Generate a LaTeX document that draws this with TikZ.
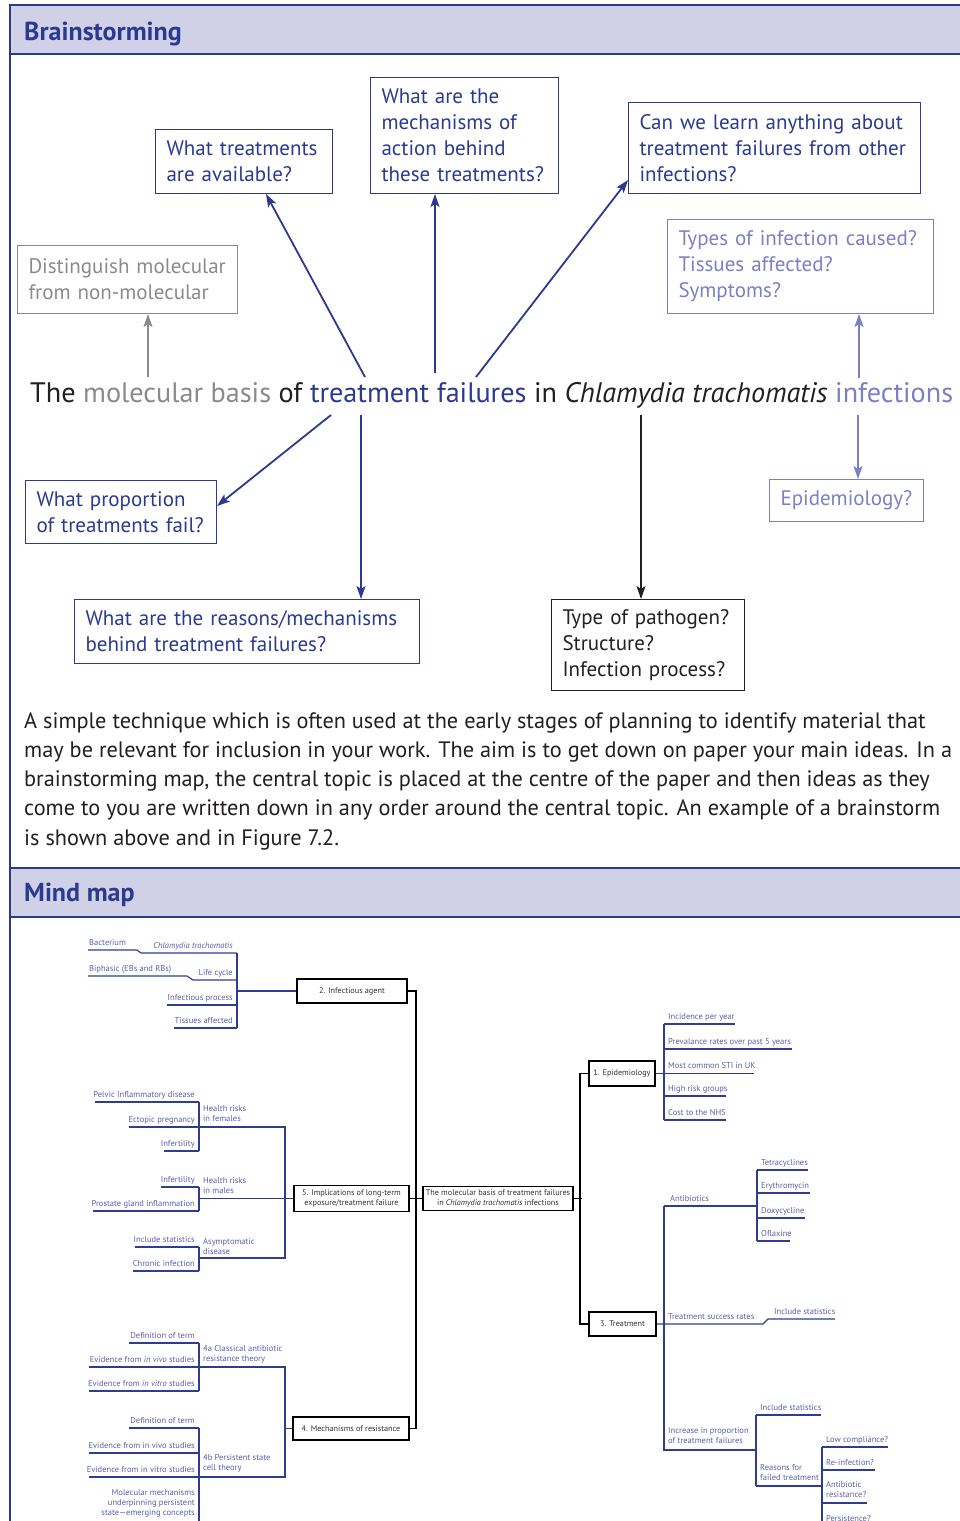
\documentclass[tikz,border=0pt]{standalone}
\usepackage{fontspec}
\setmainfont{PT Sans}
\usetikzlibrary{arrows.meta}

\definecolor{navy}{HTML}{2B3990}
\definecolor{lilac}{HTML}{7B7FC3}
\definecolor{greytxt}{HTML}{8A8A8A}
\definecolor{inkblack}{HTML}{231F20}
\definecolor{bandfill}{HTML}{D0D1E6}
\definecolor{mapblue}{HTML}{5560AA}
\definecolor{mapline}{HTML}{2E3C94}
\definecolor{boxtxt}{HTML}{333333}

\tikzset{
  band/.style={fill=bandfill, draw=navy, line width=1.2pt},
  bandtitle/.style={anchor=base west, inner sep=0pt, text=navy, font=\fontsize{26}{30}\selectfont\bfseries},
  qbox/.style={draw, line width=1pt, align=left, anchor=north west, inner xsep=11pt,
    font=\fontsize{21}{26}\selectfont},
  qarrow/.style={-{Stealth[length=13pt,width=9pt,inset=3pt]}, line width=1.8pt},
  mbox/.style={draw=black, line width=1.8pt, fill=white, text=boxtxt, align=center,
    inner sep=2pt, font=\fontsize{8.2}{9.8}\selectfont},
  mlink/.style={draw=black, line width=1.8pt},
  mline/.style={draw=mapline, line width=1.2pt},
  rtxt/.style={anchor=base west, text=mapblue, inner sep=0pt, font=\fontsize{8.5}{10}\selectfont},
  ltxt/.style={rtxt, anchor=base east},
  ntxt/.style={rtxt, anchor=north west, align=left},
}

\begin{document}
\begin{tikzpicture}[x=1pt, y=-1pt]
\path[use as bounding box] (0,0) rectangle (960,1521);

% section bands and frame
\path[band] (10,5) rectangle (964,54);
\node[bandtitle] (brain) at (24,40) {Brainstorming};
\path[band] (10,868) rectangle (964,917);
\node[bandtitle] (mind) at (24,901) {Mind map};
\draw[navy, line width=1.2pt] (10,54) -- (10,868) (10,917) -- (10,1525);

% brainstorm
\node[qbox, navy, text width=155pt, minimum height=64pt] (avail) at (155,129) {What treatments\\are available?};
\node[qbox, navy, text width=166pt, minimum height=116pt] (mech) at (370,77) {What are the\\mechanisms of\\action behind\\these treatments?};
\node[qbox, navy, text width=270pt, minimum height=91pt] (learn) at (628,102) {Can we learn anything about\\treatment failures from other\\infections?};
\node[qbox, lilac, text width=244pt, minimum height=94pt] (types) at (667,219) {Types of infection caused?\\Tissues affected?\\Symptoms?};
\node[qbox, greytxt, text width=198pt, minimum height=68pt] (dist) at (17,245) {Distinguish molecular\\from non-molecular};
\node[qbox, navy, text width=169pt, minimum height=63pt] (prop) at (25,480) {What proportion\\of treatments fail?};
\node[qbox, navy, text width=323pt, minimum height=64pt] (reasons) at (74,599) {What are the reasons/mechanisms\\behind treatment failures?};
\node[qbox, inkblack, text width=171pt, minimum height=91pt] (pathogen) at (551,599) {Type of pathogen?\\Structure?\\Infection process?};
\node[qbox, lilac, text width=132pt, minimum height=42pt] (epid) at (769,479) {Epidemiology?};

\node[anchor=base west, inner sep=0pt, text=inkblack, font=\fontsize{28.2}{32}\selectfont] (topic) at (30,402)
  {The \textcolor{greytxt}{molecular basis} of \textcolor{navy}{treatment failures} in \textit{Chlamydia trachomatis} \textcolor{lilac}{infections}};

\coordinate (a1) at (148,377);
\coordinate (a2) at (365,377);
\coordinate (a3) at (435,373);
\coordinate (a4) at (476,377);
\coordinate (a5) at (859,378);
\coordinate (b1) at (331,415);
\coordinate (b2) at (361,415);
\coordinate (b3) at (641,415);
\coordinate (b4) at (858,415);

\draw[qarrow, greytxt, line width=1.4pt] (a1) -- (a1 |- dist.south);
\draw[qarrow, navy] (a2) -- ([xshift=22pt]avail.south);
\draw[qarrow, navy] (a3) -- (a3 |- mech.south);
\draw[qarrow, navy] (a4) -- ([yshift=-32pt]learn.west);
\draw[qarrow, lilac] (a5) -- (a5 |- types.south);
\draw[qarrow, navy] (b1) -- ([yshift=6pt]prop.east);
\draw[qarrow, navy] (b2) -- (b2 |- reasons.north);
\draw[qarrow, inkblack] (b3) -- (b3 |- pathogen.north);
\draw[qarrow, lilac] (b4) -- (b4 |- epid.north);

\node[anchor=north west, inner sep=0pt, align=left, text=inkblack, font=\fontsize{22.3}{29.3}\selectfont] (intro) at (24,712)
  {A simple technique which is often used at the early stages of planning to identify material that\\
   may be relevant for inclusion in your work. The aim is to get down on paper your main ideas. In a\\
   brainstorming map, the central topic is placed at the centre of the paper and then ideas as they\\
   come to you are written down in any order around the central topic. An example of a brainstorm\\
   is shown above and in Figure 7.2.};

% mind map boxes
\node[mbox, minimum width=110pt, minimum height=24pt] (agent) at (352,991) {2. Infectious agent};
\node[mbox, minimum width=115pt, minimum height=26pt] (implic) at (351.5,1198.5) {5. Implications of long-term\\exposure/treatment failure};
\node[mbox, minimum width=116pt, minimum height=23pt] (resist) at (351,1428.5) {4. Mechanisms of resistance};
\node[mbox, minimum width=150pt, minimum height=24pt] (centre) at (498,1198.5) {The molecular basis of treatment failures\\in \textit{Chlamydia trachomatis} infections};
\node[mbox, minimum width=66pt, minimum height=25pt] (epi) at (622,1073.5) {1. Epidemiology};
\node[mbox, minimum width=67pt, minimum height=24pt] (treat) at (622.5,1324) {3. Treatment};

\draw[mlink] (implic.east) -- (centre.west);
\draw[mlink] (agent.east) -- ++(8,0) |- (resist.east);
\draw[mlink] (centre.east) -- ++(8,0);
\draw[mlink] (epi.west) -- ++(-8,0) |- (treat.west);

% 2. infectious agent
\draw[mline] (agent.west) -- (237,991);
\draw[mline] (237,953) -- (237,1028);
\draw[mline] (88,950) -- (137,950) -- (141,953) -- (237,953);
\draw[mline] (88,976) -- (187,976) -- (193,980) -- (237,980);
\draw[mline] (167,1005) -- (237,1005);
\draw[mline] (174,1028) -- (237,1028);
\node[rtxt] (bact) at (89,945) {Bacterium};
\node[ltxt] (chla) at (233,948) {\itshape Chlamydia trachomatis};
\node[rtxt] (biph) at (89,971) {Biphasic (EBs and RBs)};
\node[ltxt] (life) at (233,975) {Life cycle};
\node[ltxt] (proc) at (233,1000) {Infectious process};
\node[ltxt] (tiss) at (233,1023) {Tissues affected};

% 5. implications and 4. mechanisms
\foreach \y/\x/\t [count=\i] in {1102/95/Pelvic Inflammatory disease, 1127/129/Ectopic pregnancy, 1151/164/Infertility,
    1187/161/Infertility, 1211/93/Prostate gland inflammation, 1247/135/Include statistics, 1271/133/Chronic infection,
    1343/129/Definition of term, 1367/89/{Evidence from \textit{in vivo} studies}, 1391/89/{Evidence from \textit{in vitro} studies},
    1428/129/Definition of term, 1453/89/Evidence from in vivo studies, 1477/89/Evidence from in vitro studies}
  {
    \draw[mline] (\x,\y) -- (199,\y);
    \node[ltxt] (leaf\i) at (195,\y-5) {\t};
  }
\draw[mline] (199,1102) -- (199,1151) (199,1187) -- (199,1211) (199,1247) -- (199,1271)
  (199,1343) -- (199,1391) (199,1428) -- (199,1525);
\draw[mline] (implic.west) -- (199,1198.5);
\draw[mline] (199,1127) -- (285,1127) -- (285,1258) -- (199,1258);
\draw[mline] (resist.west) -- (285,1428.5);
\draw[mline] (199,1367) -- (285,1367) -- (285,1477) -- (199,1477);
\node[ntxt] (hrf) at (203,1105) {Health risks\\in females};
\node[ntxt] (hrm) at (203,1177) {Health risks\\in males};
\node[ntxt] (asym) at (203,1238) {Asymptomatic\\disease};
\node[ntxt] (th4a) at (203,1345) {4a Classical antibiotic\\resistance theory};
\node[ntxt] (th4b) at (203,1454) {4b Persistent state\\cell theory};
\node[ntxt, anchor=north east, align=right] (molmech) at (195,1489) {Molecular mechanisms\\underpinning persistent\\state---emerging concepts};

% 1. epidemiology
\draw[mline] (epi.east) -- (754,1073.5);
\draw[mline] (664,1024) -- (664,1120);
\foreach \y/\x/\t [count=\i] in {1024/735/Incidence per year, 1049/792/Prevalance rates over past 5 years,
    1073.5/754/Most common STI in UK, 1096/726/High risk groups, 1120/726/Cost to the NHS}
  {
    \draw[mline] (664,\y) -- (\x,\y);
    \node[rtxt] (epi\i) at (668,\y-5) {\t};
  }

% 3. treatment
\draw[mline] (treat.east) -- (763,1324) -- (768,1319) -- (835,1319);
\draw[mline] (664,1206) -- (664,1450) -- (756,1450);
\draw[mline] (664,1206) -- (757,1206);
\draw[mline] (757,1170) -- (757,1241);
\foreach \y/\x/\t [count=\i] in {1170/808/Tetracyclines, 1193/810/Erythromycin, 1218/805/Doxycycline, 1241/790/Oflaxine}
  {
    \draw[mline] (757,\y) -- (\x,\y);
    \node[rtxt] (drug\i) at (761,\y-5) {\t};
  }
\node[rtxt] (anti) at (670,1201) {Antibiotics};
\node[rtxt] (succ) at (668,1319) {Treatment success rates};
\node[rtxt] (stat1) at (774,1314) {Include statistics};
\draw[mline] (756,1415) -- (756,1486);
\draw[mline] (756,1415) -- (821,1415);
\draw[mline] (756,1486) -- (822,1486);
\node[ntxt] (incr) at (668,1427) {Increase in proportion\\of treatment failures};
\node[rtxt] (stat2) at (760,1410) {Include statistics};
\node[ntxt] (fail) at (760,1464) {Reasons for\\failed treatment};
\draw[mline] (822,1447) -- (822,1525);
\draw[mline] (822,1447) -- (888,1447) (822,1470) -- (875,1470) (822,1503) -- (867,1503);
\node[rtxt] (lowc) at (826,1442) {Low compliance?};
\node[rtxt] (rein) at (826,1465) {Re-infection?};
\node[ntxt] (abres) at (826,1481) {Antibiotic\\resistance?};
\node[rtxt] (pers) at (826,1521) {Persistence?};
\end{tikzpicture}
\end{document}
